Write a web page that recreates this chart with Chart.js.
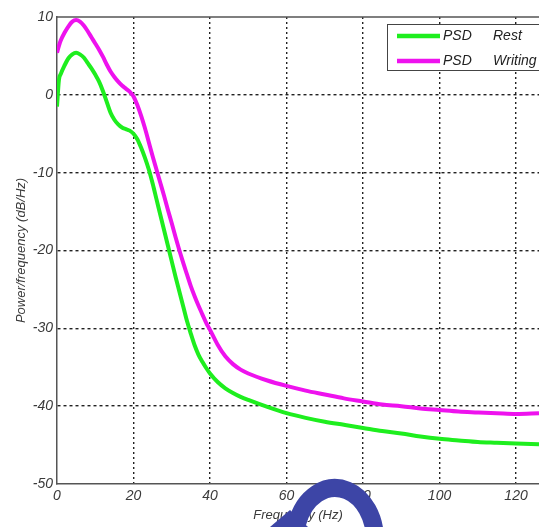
<!DOCTYPE html>
<html>
<head>
<meta charset="utf-8">
<script src="https://cdn.jsdelivr.net/npm/chart.js@4/dist/chart.umd.min.js"></script>
<style>
  html, body { margin: 0; padding: 0; background: #fff; }
  #wrap { width: 539px; height: 527px; }
</style>
</head>
<body>
<div id="wrap"><canvas id="psd" width="539" height="527"></canvas></div>
<script>
// frequency samples (Hz), shared by both curves
const freqHz = [
  0, 0.5, 1, 2, 3, 4, 5, 6, 7, 8, 9, 10, 11, 12, 13, 14, 15, 16, 17, 18, 19, 20,
  21, 22, 23, 24, 25, 26, 27, 28, 29, 30, 31, 32, 33, 34, 35, 36, 37, 38, 39, 40,
  42, 44, 46, 48, 50,
  55, 60, 65, 70, 75, 80, 85, 90, 95, 100, 105, 110, 115, 120,
  126,
];

// PSD at rest (dB/Hz)
const psdRest = [
  -1.5, 1.9, 2.7, 3.8, 4.7, 5.2, 5.4, 5.2, 4.8, 4.1, 3.4, 2.6, 1.7, 0.5, -0.9, -2.3, -3.2, -3.8, -4.2, -4.4, -4.6, -5.0,
  -5.7, -6.8, -8.1, -9.6, -11.4, -13.4, -15.4, -17.4, -19.4, -21.4, -23.4, -25.3, -27.2, -29.1, -30.7, -32.2, -33.4, -34.3, -35.1, -35.8,
  -36.9, -37.7, -38.3, -38.8, -39.2,
  -40.1, -40.9, -41.5, -42.0, -42.4, -42.8, -43.2, -43.5, -43.9, -44.2, -44.4, -44.6, -44.7, -44.8,
  -44.9,
];

// PSD while writing (dB/Hz)
const psdWriting = [
  5.4, 6.3, 7.0, 8.0, 8.8, 9.4, 9.6, 9.4, 8.9, 8.2, 7.4, 6.6, 5.8, 4.9, 3.9, 3.0, 2.3, 1.7, 1.2, 0.8, 0.4, -0.2,
  -1.3, -2.7, -4.3, -6.1, -7.9, -9.6, -11.3, -13.0, -14.8, -16.5, -18.3, -20.0, -21.6, -23.1, -24.6, -25.9, -27.1, -28.2, -29.3, -30.2,
  -32.1, -33.6, -34.6, -35.3, -35.8,
  -36.7, -37.4, -38.0, -38.5, -39.0, -39.4, -39.8, -40.0, -40.3, -40.5, -40.7, -40.8, -40.9, -41.0,
  -40.9,
];

const seriesLabels = ['PSD Rest', 'PSD Writing'];
const yTicks = [10, 0, -10, -20, -30, -40, -50];
const xTicks = [0, 20, 40, 60, 80, 100, 120];

const FONT = 'Liberation Sans, Arial, sans-serif';
const toPoints = (ys) => freqHz.map((f, i) => ({ x: f, y: ys[i] }));

// solid top frame line (the right one is cut off in the original)
const frameTop = {
  id: 'frameTop',
  afterDraw(chart) {
    const { ctx, chartArea } = chart;
    ctx.save();
    ctx.strokeStyle = '#555';
    ctx.lineWidth = 1.5;
    ctx.beginPath();
    ctx.moveTo(chartArea.left, chartArea.top);
    ctx.lineTo(chartArea.right, chartArea.top);
    ctx.stroke();
    ctx.restore();
  },
};

// matlab-like boxed legend in the top right corner
const boxLegend = {
  id: 'boxLegend',
  afterDraw(chart) {
    const { ctx, chartArea } = chart;
    const left = chartArea.right - 152;
    const top = chartArea.top + 7;
    ctx.save();
    ctx.fillStyle = '#fff';
    ctx.fillRect(left, top, 200, 46);
    ctx.strokeStyle = '#444';
    ctx.lineWidth = 1;
    ctx.strokeRect(left + 0.5, top + 0.5, 200, 46);
    ctx.font = 'italic 14px ' + FONT;
    ctx.textBaseline = 'middle';
    chart.data.datasets.forEach((ds, i) => {
      const y = top + 12 + i * 25;
      ctx.strokeStyle = ds.borderColor;
      ctx.lineWidth = 4.5;
      ctx.beginPath();
      ctx.moveTo(left + 10, y);
      ctx.lineTo(left + 53, y);
      ctx.stroke();
      const [first, second] = ds.label.split(' ');
      ctx.fillStyle = '#222';
      ctx.fillText(first, left + 56, y);
      ctx.fillText(second, left + 106, y);
    });
    ctx.restore();
  },
};

// blue arrow scribble over the x title
const scribble = {
  id: 'scribble',
  afterDraw(chart) {
    const { ctx } = chart;
    ctx.save();
    ctx.strokeStyle = '#3d45a6';
    ctx.fillStyle = '#3d45a6';
    ctx.lineWidth = 18;
    ctx.beginPath();
    ctx.ellipse(335, 540, 40, 52, 0, Math.PI * 1.1, Math.PI * 2);
    ctx.stroke();
    ctx.beginPath();
    ctx.moveTo(270, 527);
    ctx.lineTo(290, 510);
    ctx.lineTo(308, 527);
    ctx.closePath();
    ctx.fill();
    ctx.restore();
  },
};

const gridLine = (edgeValues) => ({
  color: (c) => (c.tick && edgeValues.includes(c.tick.value) ? 'rgba(0,0,0,0)' : '#222'),
  lineWidth: 1.4,
  drawTicks: false,
});

new Chart(document.getElementById('psd'), {
  type: 'line',
  data: {
    datasets: [
      {
        label: seriesLabels[0],
        data: toPoints(psdRest),
        borderColor: '#1eee1e',
        borderWidth: 4,
        pointRadius: 0,
        cubicInterpolationMode: 'monotone',
      },
      {
        label: seriesLabels[1],
        data: toPoints(psdWriting),
        borderColor: '#ee12ee',
        borderWidth: 4,
        pointRadius: 0,
        cubicInterpolationMode: 'monotone',
      },
    ],
  },
  options: {
    responsive: false,
    animation: false,
    layout: { padding: { top: 17, left: 10, right: 0, bottom: 0 } },
    plugins: {
      legend: { display: false },
      tooltip: { enabled: false },
    },
    scales: {
      x: {
        type: 'linear',
        min: 0,
        max: 126,
        afterFit: (scale) => { scale.height = 43; },
        afterBuildTicks: (scale) => { scale.ticks = xTicks.map((v) => ({ value: v })); },
        grid: gridLine([0]),
        border: { color: '#555', width: 1.5, dash: [2, 3] },
        ticks: {
          padding: 4,
          color: '#3a3a3a',
          font: { family: FONT, size: 14, style: 'italic' },
        },
        title: {
          display: true,
          text: 'Frequency (Hz)',
          color: '#3a3a3a',
          font: { family: FONT, size: 13, style: 'italic' },
        },
      },
      y: {
        min: -50,
        max: 10,
        afterFit: (scale) => { scale.width = 47; },
        afterBuildTicks: (scale) => { scale.ticks = yTicks.map((v) => ({ value: v })); },
        grid: gridLine([-50, 10]),
        border: { color: '#555', width: 1.5, dash: [3, 3] },
        ticks: {
          padding: 4,
          color: '#3a3a3a',
          font: { family: FONT, size: 14, style: 'italic' },
        },
        title: {
          display: true,
          text: 'Power/frequency (dB/Hz)',
          color: '#3a3a3a',
          font: { family: FONT, size: 13, style: 'italic' },
        },
      },
    },
  },
  plugins: [frameTop, boxLegend, scribble],
});
</script>
</body>
</html>
